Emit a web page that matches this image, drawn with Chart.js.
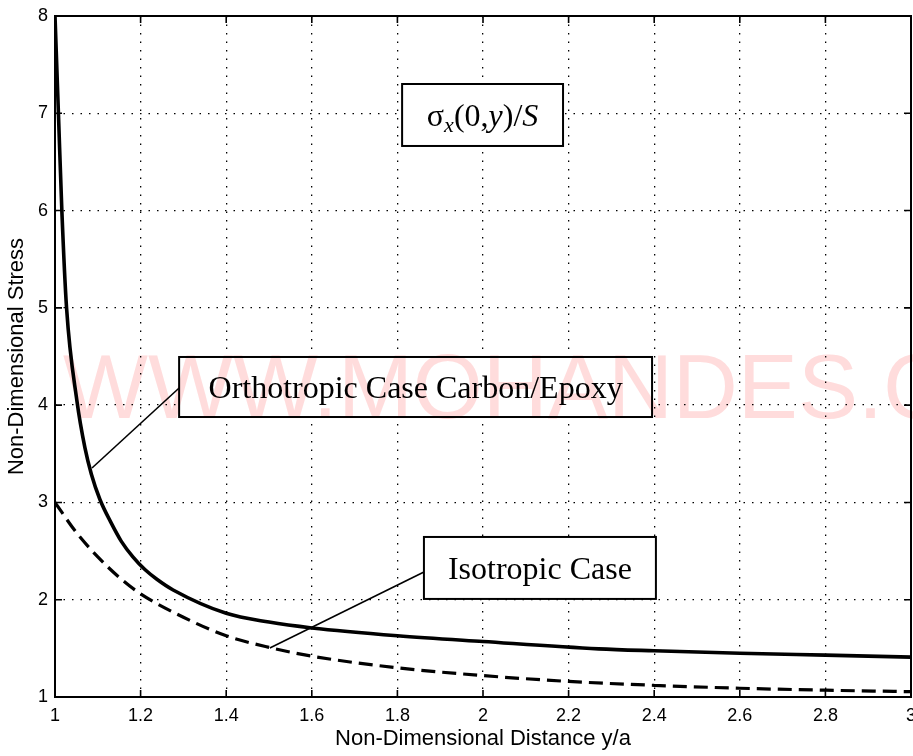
<!DOCTYPE html>
<html>
<head>
<meta charset="utf-8">
<title>Non-Dimensional Stress</title>
<script src="https://cdn.jsdelivr.net/npm/chart.js@4.4.1/dist/chart.umd.min.js"></script>
<style>
  html, body { margin: 0; padding: 0; background: #fff; }
  #wrap { width: 913px; height: 756px; position: relative; }
</style>
</head>
<body>
<div id="wrap"><canvas id="chart"></canvas></div>
<script>
// orthotropic (carbon/epoxy) stress along y/a
const orthoX = [1.0, 1.008, 1.016, 1.027, 1.051, 1.07, 1.085, 1.105, 1.13, 1.155, 1.182, 1.21, 1.238, 1.276, 1.4, 1.5, 1.6, 1.8, 2.0, 2.27, 2.4, 2.6, 2.8, 3.0];
const orthoY = [8.0, 7.0, 6.0, 5.0, 4.05, 3.56, 3.29, 3.03, 2.8, 2.6, 2.44, 2.31, 2.21, 2.1, 1.86, 1.77, 1.71, 1.63, 1.57, 1.495, 1.475, 1.45, 1.43, 1.41];

// isotropic case
const isoX = [1.0, 1.05, 1.1, 1.15, 1.2, 1.3, 1.4, 1.5, 1.6, 1.8, 2.0, 2.2, 2.4, 2.6, 2.8, 3.0];
const isoY = [3.0, 2.69, 2.44, 2.23, 2.06, 1.82, 1.63, 1.51, 1.42, 1.3, 1.22, 1.16, 1.12, 1.09, 1.07, 1.055];

// axis ticks
const xTicks = [1, 1.2, 1.4, 1.6, 1.8, 2, 2.2, 2.4, 2.6, 2.8, 3];
const xTickLabels = ["1", "1.2", "1.4", "1.6", "1.8", "2", "2.2", "2.4", "2.6", "2.8", "3"];
const yTicks = [1, 2, 3, 4, 5, 6, 7, 8];
const yTickLabels = ["1", "2", "3", "4", "5", "6", "7", "8"];

const orthoLabel = "Orthotropic Case Carbon/Epoxy";
const isoLabel = "Isotropic Case";

// text boxes and leader lines, placed in data units
const notes = [
  { text: orthoLabel, box: [1.290, 4.495, 2.395, 3.878], from: [1.290, 4.176], to: [1.0864, 3.354] },
  { text: isoLabel, box: [1.862, 2.645, 2.404, 2.008], from: [1.862, 2.285], to: [1.502, 1.504] }
];
const titleBox = [1.811, 7.301, 2.187, 6.664];

const serif = "'Liberation Serif', 'Times New Roman', serif";
const sans = "'Liberation Sans', Arial, Helvetica, sans-serif";

const toPts = (xs, ys) => xs.map((v, i) => ({ x: v, y: ys[i] }));

const decorations = {
  id: "decorations",
  afterDatasetsDraw(chart) {
    const { ctx, chartArea: a, scales: { x, y } } = chart;
    const px = v => x.getPixelForValue(v);
    const py = v => y.getPixelForValue(v);

    ctx.save();

    // leader lines, then the boxes on top
    notes.forEach(n => {
      ctx.beginPath();
      ctx.moveTo(px(n.from[0]), py(n.from[1]));
      ctx.lineTo(px(n.to[0]), py(n.to[1]));
      ctx.strokeStyle = "#000";
      ctx.lineWidth = 1.6;
      ctx.stroke();

      const l = px(n.box[0]), t = py(n.box[1]), r = px(n.box[2]), b = py(n.box[3]);
      ctx.fillStyle = "#fff";
      ctx.fillRect(l, t, r - l, b - t);
      ctx.lineWidth = 2;
      ctx.strokeRect(l, t, r - l, b - t);

      ctx.fillStyle = "#000";
      ctx.font = "32px " + serif;
      ctx.textAlign = "center";
      ctx.textBaseline = "alphabetic";
      ctx.fillText(n.text, (l + r) / 2, (t + b) / 2 + 11);
    });

    // sigma_x(0,y)/S label
    {
      const l = px(titleBox[0]), t = py(titleBox[1]), r = px(titleBox[2]), b = py(titleBox[3]);
      ctx.fillStyle = "#fff";
      ctx.fillRect(l, t, r - l, b - t);
      ctx.strokeStyle = "#000";
      ctx.lineWidth = 2;
      ctx.strokeRect(l, t, r - l, b - t);

      const runs = [
        { t: "σ", f: "32px " + serif, dy: 0 },
        { t: "x", f: "italic 22px " + serif, dy: 6 },
        { t: "(0,", f: "32px " + serif, dy: 0 },
        { t: "y", f: "italic 32px " + serif, dy: 0 },
        { t: ")/", f: "32px " + serif, dy: 0 },
        { t: "S", f: "italic 32px " + serif, dy: 0 }
      ];
      let w = 0;
      runs.forEach(run => { ctx.font = run.f; run.w = ctx.measureText(run.t).width; w += run.w; });
      let cx = (l + r) / 2 - w / 2;
      const base = (t + b) / 2 + 11;
      ctx.fillStyle = "#000";
      ctx.textAlign = "left";
      runs.forEach(run => {
        ctx.font = run.f;
        ctx.fillText(run.t, cx, base + run.dy);
        cx += run.w;
      });
    }

    // box around the plot with inward ticks
    ctx.strokeStyle = "#000";
    ctx.lineWidth = 2;
    ctx.strokeRect(a.left, a.top, a.right - a.left, a.bottom - a.top);
    ctx.lineWidth = 1.6;
    ctx.beginPath();
    xTicks.forEach(v => {
      const p = px(v);
      ctx.moveTo(p, a.bottom); ctx.lineTo(p, a.bottom - 7);
      ctx.moveTo(p, a.top); ctx.lineTo(p, a.top + 7);
    });
    yTicks.forEach(v => {
      const p = py(v);
      ctx.moveTo(a.left, p); ctx.lineTo(a.left + 7, p);
      ctx.moveTo(a.right, p); ctx.lineTo(a.right - 7, p);
    });
    ctx.stroke();
    ctx.restore();
  },
  afterDraw(chart) {
    // faint pink site stamp across the middle
    const { ctx } = chart;
    ctx.save();
    ctx.globalCompositeOperation = "multiply";
    ctx.fillStyle = "rgb(255,220,220)";
    ctx.font = "90px " + sans;
    ctx.textAlign = "left";
    ctx.textBaseline = "alphabetic";
    ctx.fillText("WWW.MOHANDES.COM", 63, 418);
    ctx.restore();
  }
};

const ctx = document.getElementById("chart").getContext("2d");

new Chart(ctx, {
  type: "line",
  data: {
    datasets: [
      {
        label: orthoLabel,
        data: toPts(orthoX, orthoY),
        borderColor: "#000",
        borderWidth: 3.6,
        pointRadius: 0,
        cubicInterpolationMode: "monotone",
        fill: false
      },
      {
        label: isoLabel,
        data: toPts(isoX, isoY),
        borderColor: "#000",
        borderWidth: 3.2,
        borderDash: [14, 7],
        pointRadius: 0,
        cubicInterpolationMode: "monotone",
        fill: false
      }
    ]
  },
  options: {
    responsive: true,
    maintainAspectRatio: false,
    animation: false,
    layout: { padding: { top: 16, right: 2, left: 0, bottom: 0 } },
    plugins: {
      legend: { display: false },
      tooltip: { enabled: false }
    },
    scales: {
      x: {
        type: "linear",
        min: 1,
        max: 3,
        afterBuildTicks: s => { s.ticks = xTicks.map(v => ({ value: v })); },
        afterFit: s => { s.height = 59; s.paddingLeft = 0; s.paddingRight = 0; },
        ticks: {
          color: "#000",
          font: { family: sans, size: 18 },
          padding: 8,
          maxRotation: 0,
          autoSkip: false,
          callback: (v, i) => xTickLabels[i]
        },
        grid: { color: "#000", lineWidth: 1.3, drawTicks: false },
        border: { display: false, dash: [1.5, 7] },
        title: {
          display: true,
          text: "Non-Dimensional Distance y/a",
          color: "#000",
          font: { family: sans, size: 22 },
          padding: { top: 0, bottom: 4 }
        }
      },
      y: {
        type: "linear",
        min: 1,
        max: 8,
        afterBuildTicks: s => { s.ticks = yTicks.map(v => ({ value: v })); },
        afterFit: s => { s.width = 55; s.paddingTop = 0; s.paddingBottom = 0; },
        ticks: {
          color: "#000",
          font: { family: sans, size: 18 },
          padding: 7,
          autoSkip: false,
          callback: (v, i) => yTickLabels[i]
        },
        grid: { color: "#000", lineWidth: 1.3, drawTicks: false },
        border: { display: false, dash: [1.5, 7] },
        title: {
          display: true,
          text: "Non-Dimensional Stress",
          color: "#000",
          font: { family: sans, size: 22 },
          padding: { top: 4, bottom: 0 }
        }
      }
    }
  },
  plugins: [decorations]
});
</script>
</body>
</html>
